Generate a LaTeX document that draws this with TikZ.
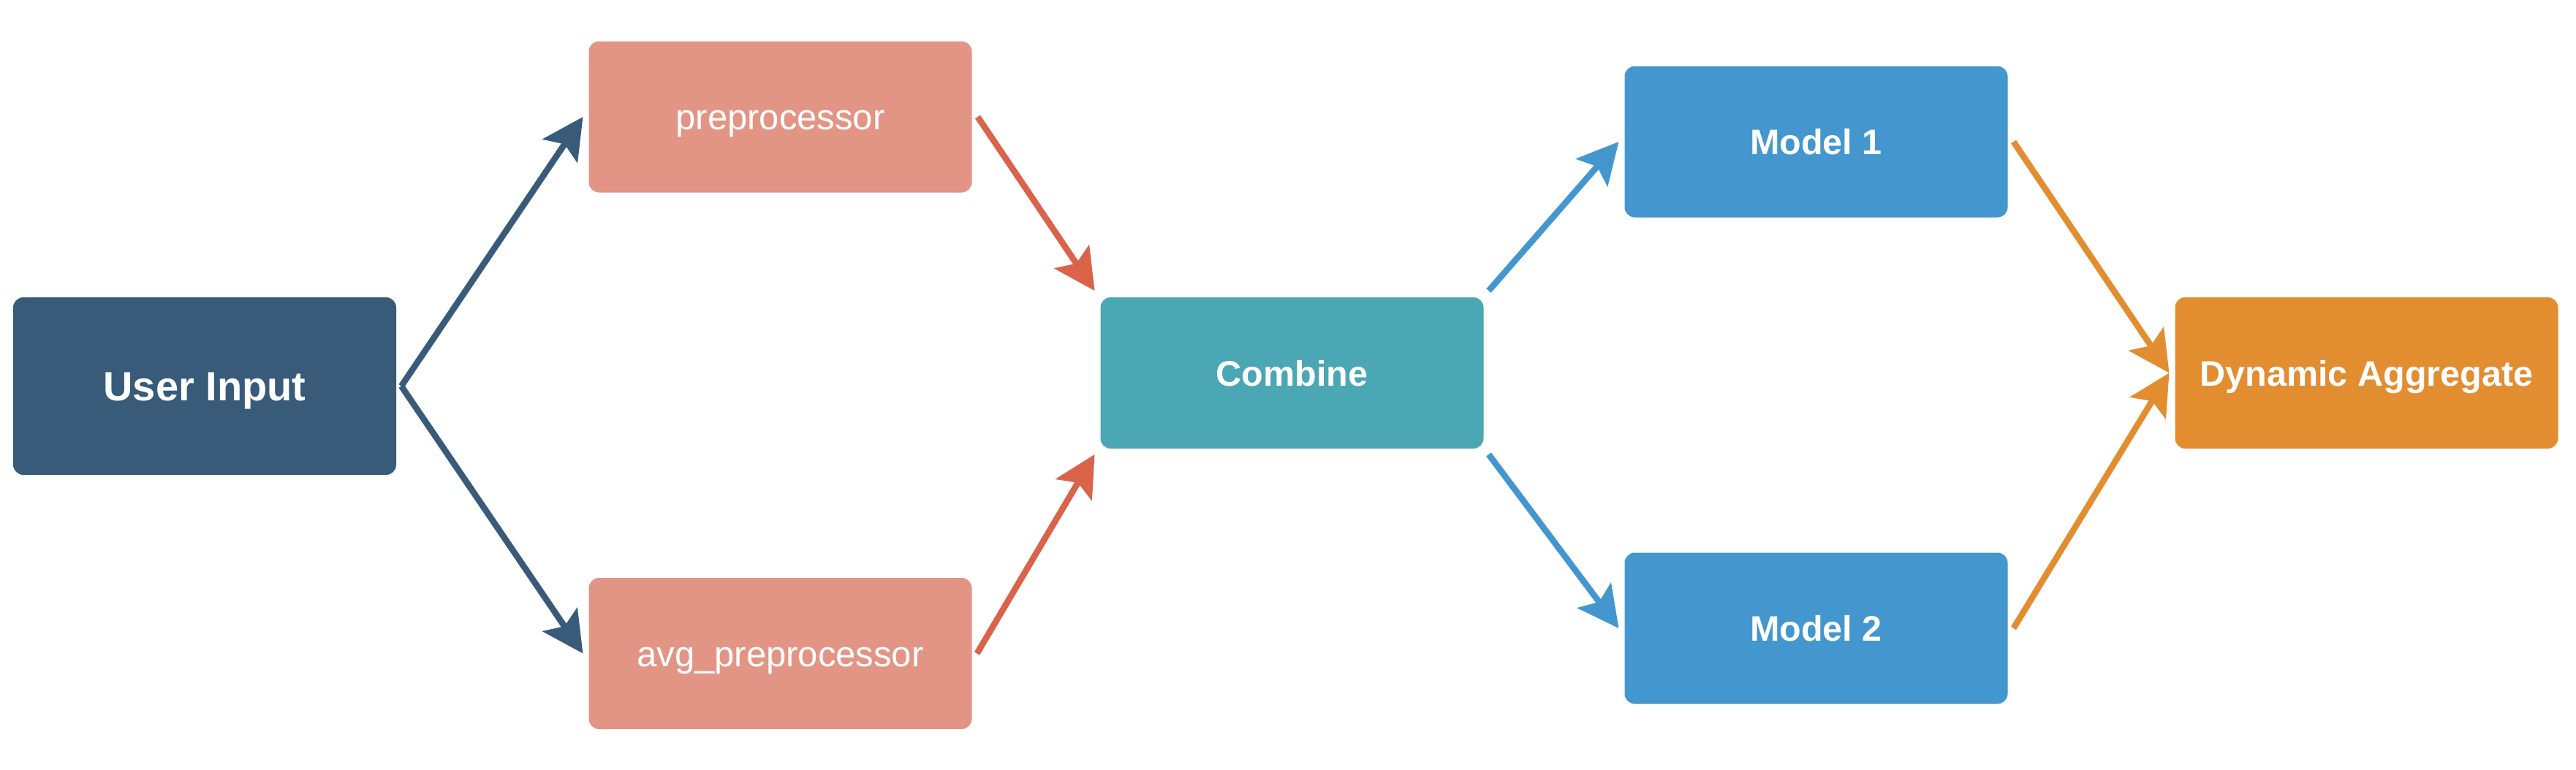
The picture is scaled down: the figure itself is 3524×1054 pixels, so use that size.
\documentclass[tikz,border=0pt]{standalone}
\usepackage{fontspec}
\setmainfont{Liberation Sans}
\usetikzlibrary{arrows.meta}
\definecolor{cUI}{HTML}{385B7A}
\definecolor{cPre}{HTML}{E39585}
\definecolor{cRed}{HTML}{DA634A}
\definecolor{cComb}{HTML}{4BA7B4}
\definecolor{cModel}{HTML}{4397CE}
\definecolor{cOrange}{HTML}{E38D31}
\tikzset{
  box/.style={rectangle, rounded corners=2.8pt, inner sep=0pt, outer sep=0pt,
    minimum width=104.8pt, minimum height=41.4pt, text=white, align=center,
    text height=7pt, text depth=0pt},
  boldlabel/.style={font=\fontsize{9.7pt}{11pt}\selectfont\bfseries},
  plainlabel/.style={font=\fontsize{9.8pt}{11pt}\selectfont},
  conn/.style={line width=1.7pt, -{Stealth[length=11.2pt, width=11.4pt, inset=2.2pt]}},
}
\begin{document}
\begin{tikzpicture}[x=0.2pt, y=-0.2pt]
\useasboundingbox (0,0) rectangle (3524,1054);
\node[box, boldlabel, fill=cUI, minimum height=48.6pt, text height=7.8pt, font=\fontsize{11.2pt}{13pt}\selectfont\bfseries] (ui) at (280,528.5) {User Input};
\node[box, plainlabel, fill=cPre] (pre) at (1067.5,160) {preprocessor};
\node[box, plainlabel, fill=cPre] (avg) at (1067.5,894.5) {avg\_preprocessor};
\node[box, boldlabel, fill=cComb] (comb) at (1767.5,510.5) {Combine};
\node[box, boldlabel, fill=cModel] (m1) at (2484.5,194) {Model 1};
\node[box, boldlabel, fill=cModel] (m2) at (2484.5,860) {Model 2};
\node[box, boldlabel, fill=cOrange] (dyn) at (3237.5,510.5) {Dynamic Aggregate};

\draw[conn, cUI] ([xshift=1.4pt]ui.east) -- ([xshift=-1.6pt]pre.west);
\draw[conn, cUI] ([xshift=1.4pt]ui.east) -- ([xshift=-1.6pt]avg.west);
\draw[conn, cRed] ([xshift=1.6pt]pre.east) -- ([shift={(-8,-9)}]comb.north west);
\draw[conn, cRed] ([xshift=1.4pt]avg.east) -- ([shift={(-8,8)}]comb.south west);
\draw[conn, cModel] ([shift={(7,-9)}]comb.north east) -- ([xshift=-1.6pt]m1.west);
\draw[conn, cModel] ([shift={(7,8)}]comb.south east) -- ([xshift=-1.6pt]m2.west);
\draw[conn, cOrange] ([xshift=1.6pt]m1.east) -- ([xshift=-1.6pt]dyn.west);
\draw[conn, cOrange] ([xshift=1.6pt]m2.east) -- ([xshift=-1.6pt]dyn.west);
\end{tikzpicture}
\end{document}
